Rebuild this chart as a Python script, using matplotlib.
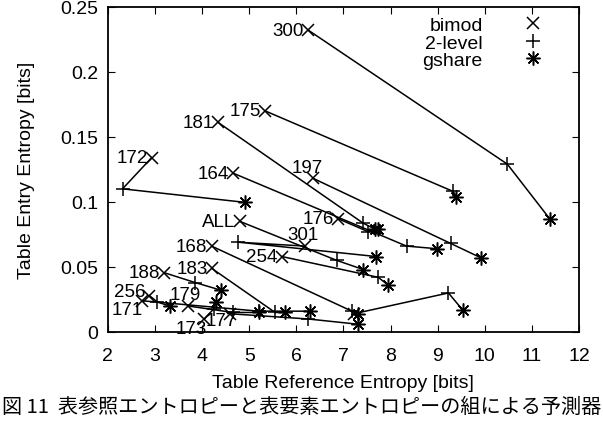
import matplotlib
matplotlib.use("Agg")
import matplotlib.pyplot as plt
from matplotlib.lines import Line2D
from matplotlib.ticker import FormatStrFormatter

plt.rcParams['font.family'] = ['Liberation Sans', 'Noto Sans CJK JP', 'DejaVu Sans']

# benchmark names, one path per benchmark: bimod -> 2-level -> gshare
names = ['300', '175', '181', '172', '164', '197', '176', 'ALL', '301',
         '168', '254', '183', '188', '256', '179', '171', '173', '177', '']

# (Table Reference Entropy, Table Entry Entropy) for each predictor
bimod_x = [6.25, 5.33, 4.34, 2.93, 4.66, 6.36, 6.89, 4.80, 6.18,
           4.20, 5.69, 4.20, 3.20, 2.88, 3.70, 2.72, 4.05, 4.60, 7.22]
bimod_y = [0.232, 0.170, 0.161, 0.134, 0.122, 0.118, 0.087, 0.085, 0.066,
           0.066, 0.058, 0.049, 0.0455, 0.028, 0.020, 0.024, 0.010, 0.014, 0.014]
lvl2_x = [10.48, 9.33, 7.42, 2.31, 8.34, 9.28, 7.53, 6.86, 4.77,
          7.18, 7.74, 5.55, 3.85, 3.05, 4.65, 5.20, 4.25, 6.25, 9.23]
lvl2_y = [0.129, 0.108, 0.0836, 0.110, 0.066, 0.068, 0.077, 0.055, 0.069,
          0.016, 0.042, 0.015, 0.038, 0.023, 0.015, 0.016, 0.018, 0.010, 0.030]
gsh_x = [11.38, 9.40, 7.67, 4.91, 8.98, 9.92, 7.74, 7.42, 7.69,
         7.30, 7.95, 5.75, 4.41, 3.31, 5.20, 6.30, 4.30, 7.30, 9.53]
gsh_y = [0.087, 0.104, 0.079, 0.0996, 0.064, 0.057, 0.079, 0.048, 0.058,
         0.014, 0.036, 0.015, 0.032, 0.020, 0.015, 0.016, 0.023, 0.006, 0.017]

# label offsets in points (text is right aligned next to the bimod point)
label_off = {'197': (7, 8), '301': (10, 8), '173': (2, -7), '177': (5, -5),
             '179': (9, 8), '256': (-3, 3), '171': (1, -6)}

fig = plt.figure(figsize=(6.03, 4.35), dpi=100)
ax = fig.add_axes([0.179, 0.2345, 0.781, 0.748])

for i in range(len(names)):
    ax.plot([bimod_x[i], lvl2_x[i], gsh_x[i]], [bimod_y[i], lvl2_y[i], gsh_y[i]],
            color='black', lw=1.1, zorder=2)
ax.plot(bimod_x, bimod_y, ls='none', marker='x', ms=8, mew=1.1, color='black', zorder=3)
ax.plot(lvl2_x, lvl2_y, ls='none', marker='+', ms=10, mew=1.1, color='black', zorder=3)
ax.plot(gsh_x, gsh_y, ls='none', marker=(8, 2, 0), ms=10, mew=1.1, color='black', zorder=3)

for i, n in enumerate(names):
    if not n:
        continue
    dx, dy = label_off.get(n, (-3, 0))
    ax.annotate(n, (bimod_x[i], bimod_y[i]), xytext=(dx, dy), textcoords='offset points',
                ha='right', va='center', fontsize=13.5)

ax.set_xlim(2, 12)
ax.set_ylim(0, 0.25)
ax.set_xticks(range(2, 13))
ax.set_yticks([0, 0.05, 0.1, 0.15, 0.2, 0.25])
ax.yaxis.set_major_formatter(FormatStrFormatter('%g'))
ax.tick_params(direction='in', top=True, right=True, labelsize=14, length=5)
ax.tick_params(axis='x', pad=11)
ax.tick_params(axis='y', pad=7)
for s in ax.spines.values():
    s.set_linewidth(1.3)

ax.set_xlabel('Table Reference Entropy [bits]', fontsize=14, labelpad=7)
ax.set_ylabel('Table Entry Entropy [bits]', fontsize=14, labelpad=18)

handles = [Line2D([], [], ls='none', marker='x', ms=8, mew=1.1, color='black'),
           Line2D([], [], ls='none', marker='+', ms=10, mew=1.1, color='black'),
           Line2D([], [], ls='none', marker=(8, 2, 0), ms=10, mew=1.1, color='black')]
ax.legend(handles, ['bimod', '2-level', 'gshare'], loc='upper right', frameon=False,
          markerfirst=False, fontsize=14, handletextpad=1.6, labelspacing=0.0,
          borderaxespad=0.1, bbox_to_anchor=(0.965, 1.0))

fig.text(0.5, 0.064, '図 11  表参照エントロピーと表要素エントロピーの組による予測器',
         ha='center', va='center', fontsize=14.5, family=['Noto Sans CJK JP', 'DejaVu Sans'])

fig.savefig('out.png', dpi=100)
